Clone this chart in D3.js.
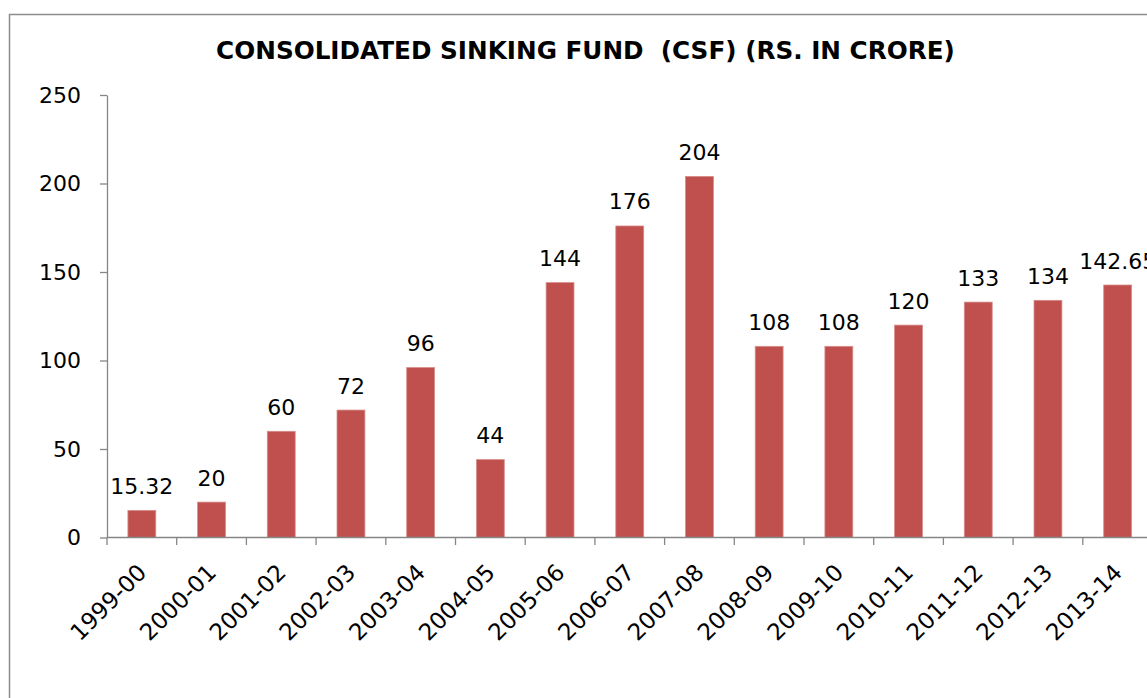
<!DOCTYPE html>
<html>
<head>
<meta charset="utf-8">
<script src="https://cdn.jsdelivr.net/npm/d3@7"></script>
<style>
  html, body { margin: 0; padding: 0; background: #fff; }
  svg { display: block; }
  text { font-family: "DejaVu Sans", Verdana, sans-serif; fill: #000; }
</style>
</head>
<body>
<svg id="chart" width="1147" height="698"></svg>
<script>
const categories = ["1999-00","2000-01","2001-02","2002-03","2003-04","2004-05","2005-06","2006-07","2007-08","2008-09","2009-10","2010-11","2011-12","2012-13","2013-14"];
const values = [15.32, 20, 60, 72, 96, 44, 144, 176, 204, 108, 108, 120, 133, 134, 142.65];
const valueLabels = ["15.32","20","60","72","96","44","144","176","204","108","108","120","133","134","142.65"];
const yTicks = [0, 50, 100, 150, 200, 250];
const title = "CONSOLIDATED SINKING FUND  (CSF) (RS. IN CRORE)";

const svg = d3.select("#chart");
const W = 1147, H = 698;
const axisColor = "#868686";
const barColor = "#C0504D";

// outer chart border
svg.append("rect")
  .attr("x", 9.5).attr("y", 14.5)
  .attr("width", W + 20).attr("height", H + 20)
  .attr("fill", "none").attr("stroke", "#8c8c8c").attr("stroke-width", 1.5);

const x = d3.scaleBand().domain(categories).range([107, 1152.5]).paddingInner(0.6).paddingOuter(0.3);
const y = d3.scaleLinear().domain([0, 250]).range([537.5, 95]);

// title
const t = svg.append("text")
  .attr("x", 585.5).attr("y", 59)
  .attr("text-anchor", "middle")
  .style("font-weight", "bold")
  .style("white-space", "pre")
  .style("font-size", "20px")
  .text(title);
const tl = t.node().getComputedTextLength();
t.style("font-size", (20 * 739 / tl).toFixed(2) + "px");

// y axis
const yAxis = d3.axisLeft(y).tickValues(yTicks).tickSize(7).tickPadding(19).tickSizeOuter(0);
const gy = svg.append("g").attr("transform", `translate(${x.range()[0]},0)`).call(yAxis);
gy.select(".domain").attr("stroke", axisColor).attr("stroke-width", 1.3);
gy.selectAll(".tick line").attr("stroke", axisColor).attr("stroke-width", 1.3);
gy.selectAll(".tick text").style("font-size", "22px").attr("fill", "#000")
  .style("font-family", "\"DejaVu Sans\", Verdana, sans-serif");

// bars
svg.append("g").selectAll("rect").data(values).join("rect")
  .attr("x", (d, i) => x(categories[i]))
  .attr("y", d => y(d))
  .attr("width", x.bandwidth())
  .attr("height", d => y(0) - y(d))
  .attr("fill", barColor)
  .attr("stroke", "#d88c8a").attr("stroke-width", 0.8);

// x axis line and ticks at band boundaries
const step = x.step();
const x0 = x.range()[0];
svg.append("line")
  .attr("x1", x0).attr("x2", x.range()[1])
  .attr("y1", y(0)).attr("y2", y(0))
  .attr("stroke", axisColor).attr("stroke-width", 1.5);
svg.append("g").selectAll("line").data(d3.range(categories.length + 1)).join("line")
  .attr("x1", i => x0 + i * step).attr("x2", i => x0 + i * step)
  .attr("y1", y(0)).attr("y2", y(0) + 7.5)
  .attr("stroke", axisColor).attr("stroke-width", 1.3);

// x labels rotated
svg.append("g").selectAll("text").data(categories).join("text")
  .attr("transform", d => `translate(${x(d) + x.bandwidth() / 2 + 6},${574}) rotate(-45)`)
  .attr("text-anchor", "end")
  .style("font-size", "23px")
  .text(d => d);

// data labels
svg.append("g").selectAll("text").data(values).join("text")
  .attr("x", (d, i) => x(categories[i]) + x.bandwidth() / 2)
  .attr("y", d => y(d) - 16.5)
  .attr("text-anchor", "middle")
  .style("font-size", "22px")
  .text((d, i) => valueLabels[i]);
</script>
</body>
</html>
